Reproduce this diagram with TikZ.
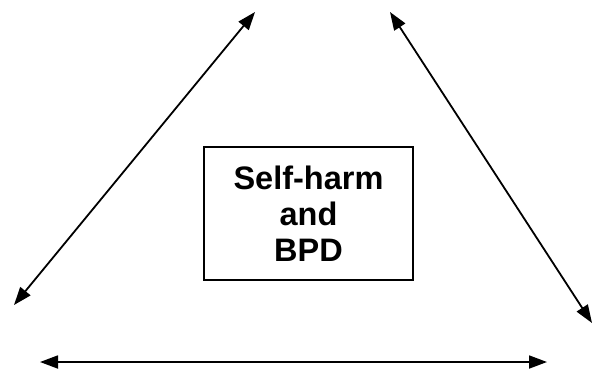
\documentclass[tikz,border=0pt]{standalone}
\usepackage{fontspec}
\setmainfont{Liberation Sans}
\usetikzlibrary{arrows.meta}
\begin{document}
\begin{tikzpicture}[x=1pt,y=-1pt,
  link/.style={line width=1.8pt,{Triangle[length=18pt,width=13pt]}-{Triangle[length=18pt,width=13pt]}},
  centrebox/.style={draw,line width=1.3pt,minimum width=209pt,minimum height=133pt,align=center,inner sep=0pt,
    font=\fontsize{32.5}{36}\selectfont\bfseries}]
\useasboundingbox (0,0) rectangle (593,373);
\node[centrebox] (box) at (308.5,213.5) {Self-harm\\and\\BPD};
\coordinate (l1) at (14,305);
\coordinate (l2) at (255,12);
\coordinate (r1) at (390,12);
\coordinate (r2) at (592,323);
\coordinate (b1) at (40,362);
\coordinate (b2) at (547,362);
\draw[link] (l1) -- (l2);
\draw[link] (r1) -- (r2);
\draw[link] (b1) -- (b2);
\end{tikzpicture}
\end{document}
